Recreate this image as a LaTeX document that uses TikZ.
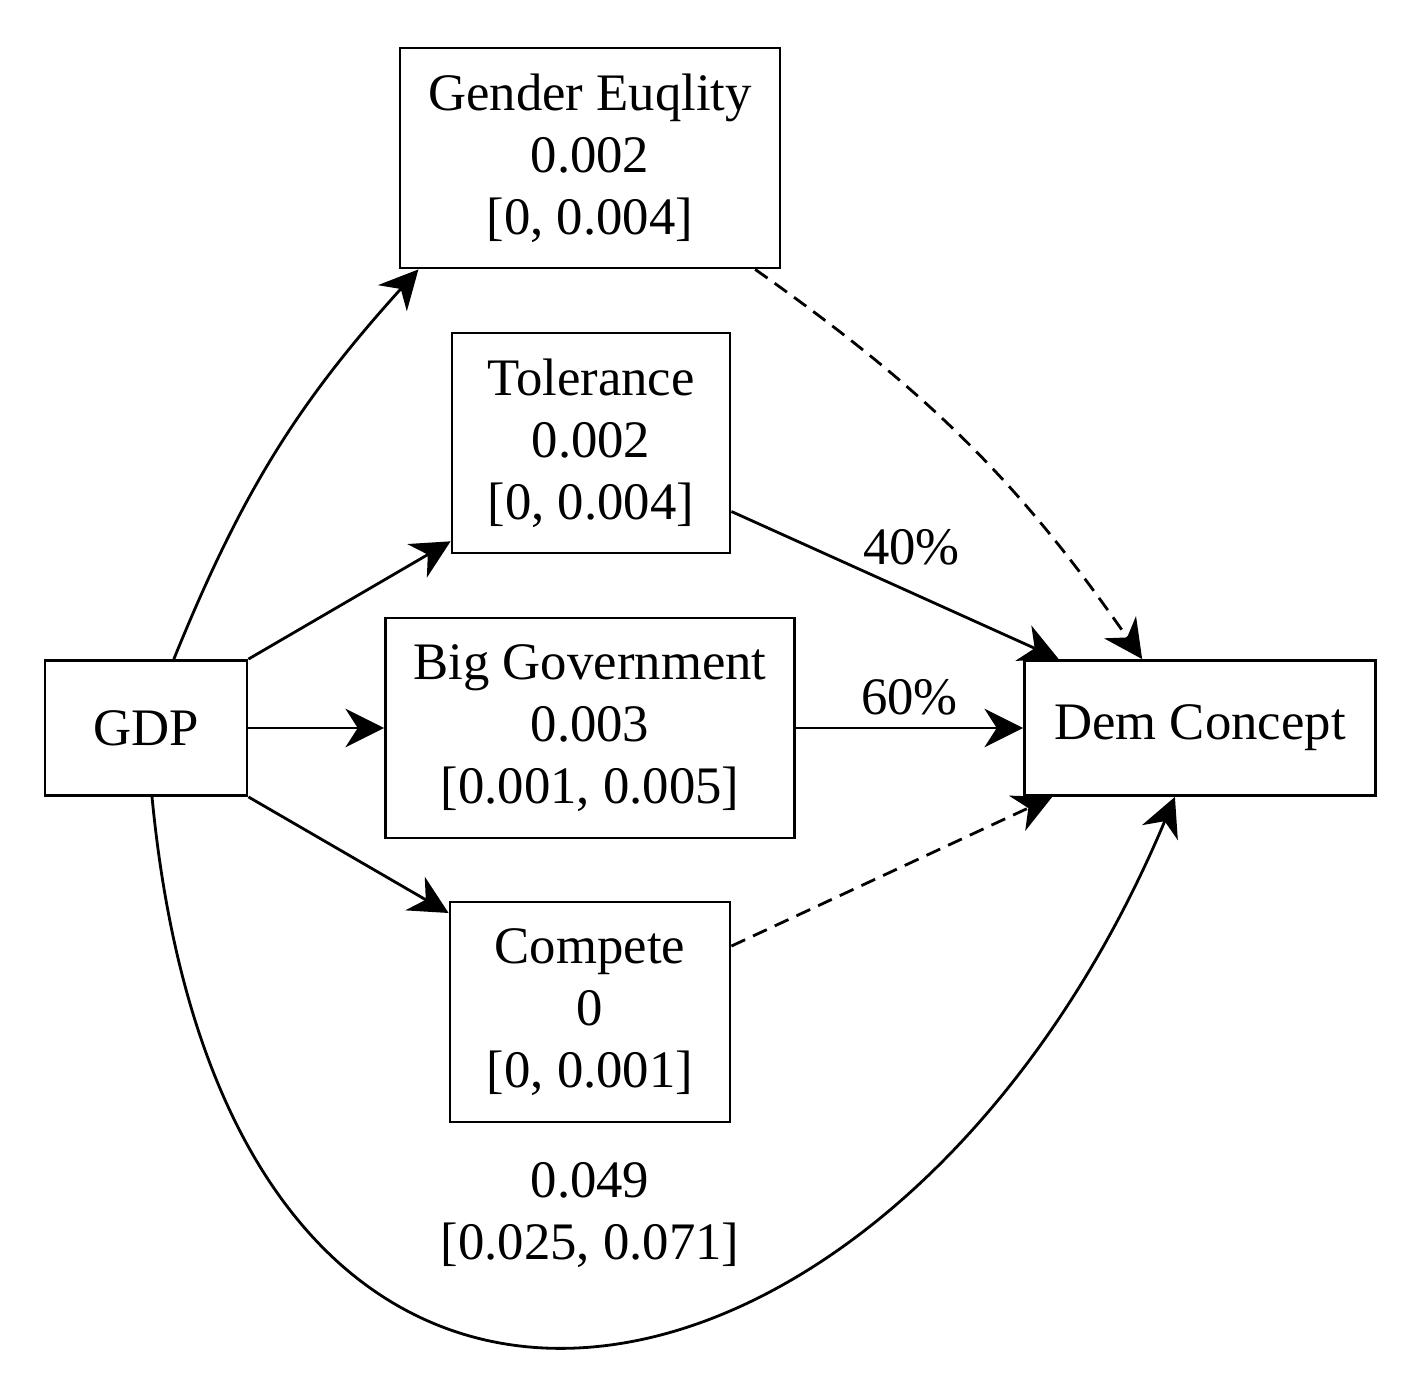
\documentclass[tikz,border=0pt]{standalone}
\usepackage{fontspec}
\setmainfont{Liberation Serif}
\usetikzlibrary{arrows.meta, positioning, calc}

\begin{document}
\begin{tikzpicture}[
    box/.style={draw, line width=0.8pt, align=center, minimum height=1.35cm,
                font=\fontsize{15}{17.6}\selectfont},
    medbox/.style={box, minimum height=2.2cm},
    link/.style={-{Stealth[length=11pt, width=11pt, inset=3.5pt]}, line width=0.8pt},
    weak/.style={link, dash pattern=on 4.3pt off 2.5pt},
    lbl/.style={font=\fontsize{15}{17.6}\selectfont, align=center}
]
    \useasboundingbox (0,0) rectangle (14.16,-13.96);

    % Nodes
    \node[box, minimum width=2.02cm] (gdp) at (1.46,-7.28) {GDP};
    \node[medbox, minimum width=3.80cm] (gender) at (5.90,-1.58)
        {Gender Euqlity\\0.002\\{}[0, 0.004]};
    \node[medbox, minimum width=2.78cm] (tol) at (5.91,-4.43)
        {Tolerance\\0.002\\{}[0, 0.004]};
    \node[medbox, minimum width=4.09cm] (biggov) at (5.90,-7.28)
        {Big Government\\0.003\\{}[0.001, 0.005]};
    \node[medbox, minimum width=2.80cm] (compete) at (5.90,-10.12)
        {Compete\\0\\{}[0, 0.001]};
    \node[box, minimum width=3.51cm] (dem) at (12.00,-7.28) {Dem Concept};

    % GDP to mediators
    \draw[link] (gdp.68) to[bend left=10] (gender.213);
    \draw[link] (gdp.north east) -- (tol.215);
    \draw[link] (gdp.east) -- (biggov.west);
    \draw[link] (gdp.south east) -- (compete.145);

    % Mediators to outcome
    \draw[weak] (gender.326) to[bend left=10] (dem.130);
    \draw[link] (tol.334) -- node[lbl, above=4pt, pos=0.55] {40\%} (dem.154.6);
    \draw[link] (biggov.east) -- node[lbl, above] {60\%} (dem.west);
    \draw[weak] (compete.25.6) -- (dem.205.4);

    % Direct effect
    \draw[link] (gdp.-85) .. controls +(0.77,-8.05) and +(-2.75,-6.55) .. (dem.250);
    \node[lbl] (direct) at (5.90,-12.15) {0.049\\{}[0.025, 0.071]};
\end{tikzpicture}
\end{document}
